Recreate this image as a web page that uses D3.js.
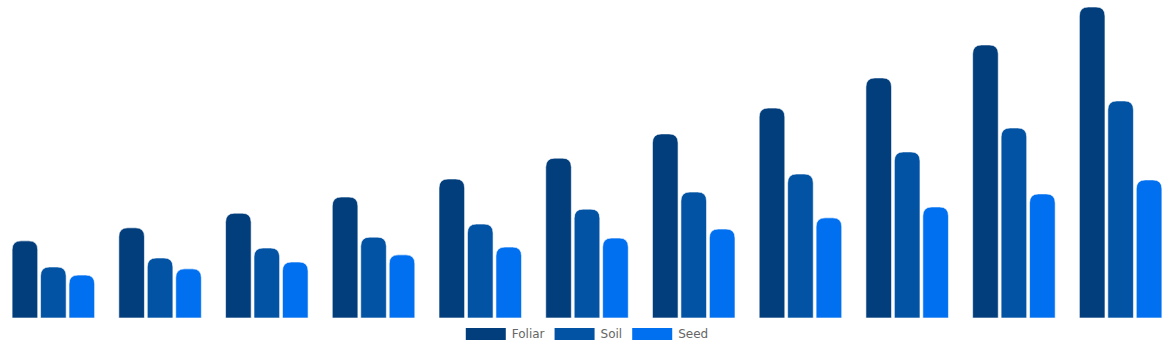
<!DOCTYPE html>
<html>
<head>
<meta charset="utf-8">
<script src="https://cdn.jsdelivr.net/npm/d3@7"></script>
<style>
  body { margin: 0; background: #fff; }
  svg { display: block; }
</style>
</head>
<body>
<svg id="chart" width="1174" height="350"></svg>
<script>
// Data (no axis shown)
var categories = ['1', '2', '3', '4', '5', '6', '7', '8', '9', '10', '11']
var series_names = ['Foliar', 'Soil', 'Seed']
var foliar = [24.8, 29.0, 33.7, 38.9, 44.7, 51.4, 59.2, 67.5, 77.2, 87.8, 100]
var soil = [16.4, 19.3, 22.5, 26.0, 30.2, 35.0, 40.5, 46.3, 53.4, 61.1, 69.8]
var seed = [13.8, 15.8, 18.0, 20.3, 22.8, 25.7, 28.6, 32.2, 35.7, 39.9, 44.4]
var colors = ['#033e7c', '#0353a4', '#006ff0']

var width = 1174
var height = 350
var baseline = 318
var top_y = 7

var svg = d3.select('#chart')

var rows = categories.map(function(c, i) {
  return { cat: c, values: [foliar[i], soil[i], seed[i]] }
})

// Scales
var x0 = d3.scaleBand()
  .domain(categories)
  .range([0, width])
  .paddingInner(0.2)
  .paddingOuter(0.1)

var x1 = d3.scaleBand()
  .domain(series_names)
  .range([0, x0.bandwidth()])
  .paddingInner(0.1)
  .paddingOuter(0.05)

var y = d3.scaleLinear()
  .domain([0, 100])
  .range([baseline, top_y])

// Bar with rounded top corners
function bar_path(x, y_top, w, h, r) {
  r = Math.min(r, w / 2, h)
  return 'M' + x + ',' + (y_top + h) +
    'V' + (y_top + r) +
    'Q' + x + ',' + y_top + ' ' + (x + r) + ',' + y_top +
    'H' + (x + w - r) +
    'Q' + (x + w) + ',' + y_top + ' ' + (x + w) + ',' + (y_top + r) +
    'V' + (y_top + h) + 'Z'
}

var groups = svg.append('g')
  .selectAll('g')
  .data(rows)
  .join('g')
  .attr('transform', function(d) { return 'translate(' + x0(d.cat) + ',0)' })

groups.selectAll('path')
  .data(function(d) {
    return d.values.map(function(v, k) { return { key: series_names[k], value: v, k: k } })
  })
  .join('path')
  .attr('d', function(d) {
    var yt = y(d.value)
    return bar_path(x1(d.key), yt, x1.bandwidth(), baseline - yt, 9)
  })
  .attr('fill', function(d) { return colors[d.k] })
  .attr('stroke', '#ffffff')
  .attr('stroke-width', 0.6)

// Legend
var legend_font = 12
var box_w = 40
var box_h = 12
var legend_y = 328
var legend = svg.append('g')
  .attr('font-family', "'DejaVu Sans', sans-serif")
  .attr('font-size', legend_font)

// measure text widths
var widths = series_names.map(function(name) {
  var t = legend.append('text').text(name)
  var w = t.node().getComputedTextLength()
  t.remove()
  return w
})
var item_widths = widths.map(function(w) { return box_w + legend_font / 2 + w })
var total = d3.sum(item_widths) + 10 * (series_names.length - 1)
var lx = (width - total) / 2

series_names.forEach(function(name, i) {
  legend.append('rect')
    .attr('x', lx)
    .attr('y', legend_y)
    .attr('width', box_w)
    .attr('height', box_h)
    .attr('fill', colors[i])
  legend.append('text')
    .attr('x', lx + box_w + legend_font / 2)
    .attr('y', legend_y + box_h / 2)
    .attr('dy', '0.35em')
    .attr('fill', '#666')
    .text(name)
  lx += item_widths[i] + 10
})
</script>
</body>
</html>
